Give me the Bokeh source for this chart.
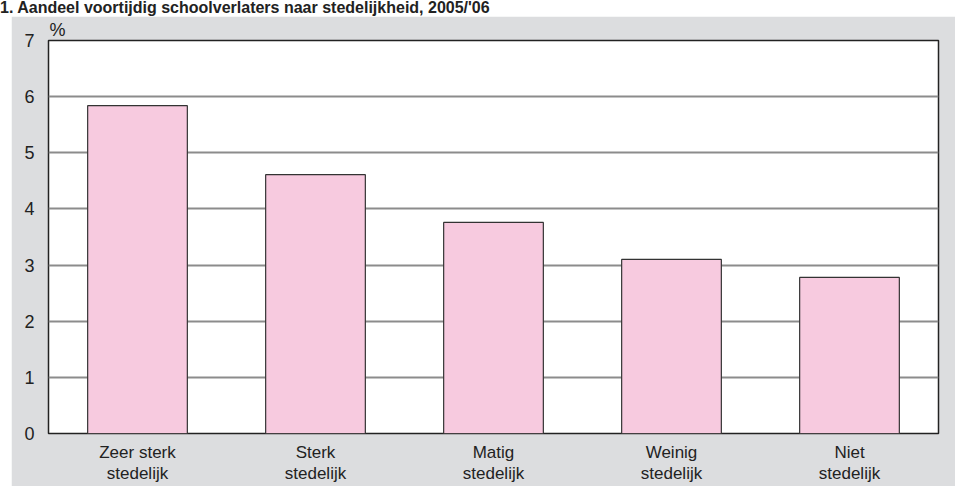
from bokeh.plotting import figure
from bokeh.models import Title, Div, FixedTicker, ColumnDataSource
from bokeh.layouts import column
from bokeh.embed import file_html
from bokeh.resources import INLINE

categories = ["Zeer sterk\nstedelijk", "Sterk\nstedelijk", "Matig\nstedelijk", "Weinig\nstedelijk", "Niet\nstedelijk"]
values = [5.84, 4.61, 3.76, 3.10, 2.78]
y_ticks = [0, 1, 2, 3, 4, 5, 6, 7]
title_text = "1. Aandeel voortijdig schoolverlaters naar stedelijkheid, 2005/'06"
unit_text = "%"

FONT = "Liberation Sans"
BG = "#dcdddf"

src = ColumnDataSource(dict(cat=categories, val=values))

p = figure(x_range=categories, y_range=(0, 7), width=944, height=470,
           output_backend="svg", toolbar_location=None,
           min_border_left=37, min_border_right=17, min_border_top=24, min_border_bottom=52,
           margin=(0, 0, 0, 11))
p.title = Title(text=unit_text, align="left", offset=1, text_font=FONT,
                text_font_size="18px", text_font_style="normal", text_color="#222222",
                vertical_align="bottom", standoff=2)
p.border_fill_color = BG
p.background_fill_color = "white"
p.outline_line_color = "#222222"
p.outline_line_width = 1.5

p.vbar(x="cat", top="val", width=0.56, source=src, fill_color="#f7cadf",
       line_color="#333333", line_width=1.2)

p.xgrid.grid_line_color = None
p.ygrid.grid_line_color = "#8c8c8c"
p.ygrid.grid_line_width = 2
p.ygrid.ticker = FixedTicker(ticks=[1, 2, 3, 4, 5, 6])

p.yaxis.ticker = FixedTicker(ticks=y_ticks)
p.yaxis.axis_line_color = None
p.yaxis.major_tick_line_color = None
p.yaxis.minor_tick_line_color = None
p.yaxis.major_label_text_font = FONT
p.yaxis.major_label_text_font_size = "18px"
p.yaxis.major_label_text_color = "#222222"
p.yaxis.major_label_standoff = 8

p.xaxis.axis_line_color = None
p.xaxis.major_tick_line_color = None
p.xaxis.minor_tick_line_color = None
p.xaxis.major_label_text_font = FONT
p.xaxis.major_label_text_font_size = "17px"
p.xaxis.major_label_text_color = "#222222"
p.xaxis.major_label_standoff = 3
p.xaxis.major_label_text_line_height = 1.15
p.x_range.range_padding = 0

div = Div(text=title_text, width=955, height=16,
          styles={"font-family": FONT, "font-weight": "bold", "font-size": "16px",
                  "color": "#222222", "line-height": "16px", "margin": "0",
                  "white-space": "nowrap"})

layout = column(div, p, spacing=0)
open("out.html", "w").write(file_html(layout, INLINE))
